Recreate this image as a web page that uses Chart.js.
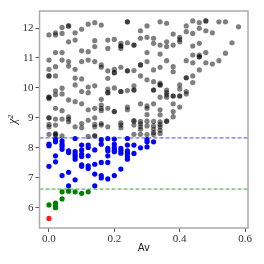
<!DOCTYPE html>
<html>
<head>
<meta charset="utf-8">
<script src="https://cdn.jsdelivr.net/npm/chart.js@4/dist/chart.umd.min.js"></script>
<style>
  html, body { margin: 0; padding: 0; background: #fff; }
  #wrap { width: 264px; height: 264px; }
</style>
</head>
<body>
<div id="wrap"><canvas id="chart" width="264" height="264"></canvas></div>
<script>
// Av columns (points sit on a 0.02 grid) and chi^2 values read per column
const grayAv = [0.00, 0.02, 0.04, 0.06, 0.08, 0.10, 0.12, 0.14, 0.16, 0.18, 0.20, 0.22, 0.24, 0.26, 0.28, 0.30,
                0.32, 0.34, 0.36, 0.38, 0.40, 0.42, 0.44, 0.46, 0.48, 0.50, 0.52, 0.54, 0.56, 0.58];
const grayChi2 = [
  [11.77, 10.93, 10.62, 10.40, 10.40, 9.69, 9.69, 9.64, 9.00, 9.00, 8.78, 8.70, 8.45],
  [11.84, 11.77, 11.18, 10.71, 10.40, 9.90, 9.77, 9.32, 8.96, 8.76, 8.48, 8.45, 8.42],
  [12.02, 11.82, 11.18, 10.93, 9.99, 9.80, 9.24, 8.96, 8.40],
  [12.07, 12.07, 11.54, 10.88, 10.73, 9.60, 9.03, 8.96, 8.87],
  [11.84, 11.60, 10.62, 10.33, 10.10, 9.54, 8.70],
  [11.96, 11.24, 10.88, 10.30, 9.88, 9.47, 8.81, 8.67],
  [12.13, 11.21, 10.93, 10.03, 9.84, 9.27, 8.92, 8.38],
  [12.18, 11.58, 11.38, 10.88, 10.07, 9.32, 9.00, 8.78, 8.70, 8.40, 8.40],
  [12.10, 10.77, 10.69, 9.62, 9.43, 9.32, 9.24, 8.81, 8.76],
  [11.60, 11.32, 10.57, 10.32, 9.96, 9.84, 9.84, 9.32, 8.70],
  [11.62, 10.62, 10.51, 10.51, 10.00, 9.21, 9.21],
  [11.49, 11.40, 11.40, 11.32, 10.69, 9.88, 9.88, 8.83, 8.76, 8.67],
  [12.21, 12.21, 11.51, 10.57, 10.57, 9.91, 9.36, 9.27],
  [11.43, 11.43, 10.58, 10.07, 9.93, 9.93, 8.91, 8.89, 8.76, 8.45],
  [11.91, 11.66, 10.77, 10.77, 10.40, 9.47, 8.88, 8.80, 8.70, 8.62, 8.45],
  [12.07, 11.69, 11.18, 10.88, 10.27, 9.40, 9.32, 9.11, 8.89, 8.73, 8.44],
  [11.66, 11.49, 10.60, 10.21, 9.93, 9.93, 9.47, 8.88, 8.73, 8.62, 8.51, 8.44],
  [12.21, 11.43, 11.13, 10.69, 10.16, 10.10, 10.10, 9.69, 9.27, 9.10, 8.87, 8.78, 8.70, 8.59, 8.48],
  [12.16, 11.54, 11.38, 10.91, 9.93, 9.84, 9.77, 9.69, 8.89, 8.89],
  [11.80, 11.43, 10.71, 10.54, 9.73, 9.73, 9.47, 9.21, 9.04],
  [11.69, 11.62, 11.54, 10.10, 9.96, 9.73, 9.73, 9.36],
  [12.07, 11.88, 10.91, 10.34, 10.34, 9.88, 9.80],
  [12.24, 11.82, 11.40, 11.10, 10.84, 10.40, 10.18],
  [12.18, 11.99, 11.49, 11.10, 11.04, 11.04, 10.60],
  [12.24, 12.24, 11.91, 11.18, 10.84],
  [11.84, 10.80],
  [12.21, 10.91],
  [12.21, 11.16],
  [11.51],
  [12.04]
];

const blueAv = [0.00, 0.02, 0.04, 0.06, 0.08, 0.10, 0.12, 0.14, 0.16, 0.18, 0.20, 0.22, 0.24, 0.26, 0.28, 0.30, 0.32];
const blueChi2 = [
  [8.12, 8.07, 7.38],
  [8.29, 8.20, 7.73, 7.53],
  [8.23, 8.12, 8.04, 7.95, 7.07],
  [7.90, 7.84, 7.18, 6.73],
  [8.31, 7.87, 7.79, 7.71, 7.62, 6.93],
  [8.09, 7.93, 7.79, 7.71, 7.43, 7.38],
  [8.09, 8.01, 7.73, 7.40, 7.31],
  [7.93, 7.45, 7.12, 6.73],
  [8.27, 8.12, 7.51, 7.07, 6.99],
  [8.31, 7.98, 7.90, 7.73, 7.51, 6.96],
  [8.29, 8.12, 8.01, 7.93, 7.87, 7.07],
  [7.98, 7.90, 7.82, 7.29],
  [8.31, 8.09, 7.90, 7.82, 7.71, 7.62],
  [8.09, 7.81],
  [8.00],
  [8.27, 8.20, 8.03],
  [8.20]
];

const greenAv = [0.00, 0.02, 0.02, 0.02, 0.04, 0.04, 0.06, 0.08, 0.10, 0.12];
const greenChi2 = [6.09, 6.15, 6.04, 6.00, 6.53, 6.29, 6.55, 6.53, 6.48, 6.53];

const redAv = [0.00];
const redChi2 = [5.64];

const blueCut = 8.33;
const greenCut = 6.62;

const xRange = [-0.029, 0.609];
const yRange = [5.32, 12.57];
const xTicks = [0.0, 0.2, 0.4, 0.6];
const yTicks = [6, 7, 8, 9, 10, 11, 12];

function columnsToPoints(avs, chis) {
  const pts = [];
  avs.forEach((av, i) => chis[i].forEach(c => pts.push({ x: av, y: c })));
  return pts;
}
function pairsToPoints(avs, chis) {
  return avs.map((av, i) => ({ x: av, y: chis[i] }));
}
function hline(y) {
  return [{ x: xRange[0], y }, { x: xRange[1], y }];
}

// grey box around the plot area
const frame = {
  id: "frame",
  afterDatasetsDraw(chart) {
    const { ctx, chartArea: a } = chart;
    ctx.save();
    ctx.strokeStyle = "#aaaaaa";
    ctx.lineWidth = 1.5;
    ctx.strokeRect(a.left, a.top, a.right - a.left, a.bottom - a.top);
    ctx.restore();
  }
};

const serif = "'Liberation Serif', 'DejaVu Serif', serif";

new Chart(document.getElementById("chart"), {
  type: "scatter",
  data: {
    datasets: [
      { data: hline(blueCut), type: "line", borderColor: "rgba(40,40,235,0.85)", borderWidth: 1,
        borderDash: [4, 2], pointRadius: 0, order: 0 },
      { data: hline(greenCut), type: "line", borderColor: "rgba(20,160,20,0.9)", borderWidth: 1,
        borderDash: [4, 2], pointRadius: 0, order: 0 },
      { data: pairsToPoints(redAv, redChi2), backgroundColor: "#ff1a1a", pointRadius: 2.6, borderWidth: 0, order: 1 },
      { data: pairsToPoints(greenAv, greenChi2), backgroundColor: "#008000", pointRadius: 2.6, borderWidth: 0, order: 2 },
      { data: columnsToPoints(blueAv, blueChi2), backgroundColor: "#0000ff", pointRadius: 2.6, borderWidth: 0, order: 3 },
      { data: columnsToPoints(grayAv, grayChi2), backgroundColor: "rgba(0,0,0,0.5)", pointRadius: 2.6, borderWidth: 0, order: 4 }
    ]
  },
  options: {
    responsive: false,
    animation: false,
    layout: { padding: { left: 0, top: 11, right: 16, bottom: 0 } },
    plugins: { legend: { display: false }, tooltip: { enabled: false } },
    scales: {
      x: {
        type: "linear",
        min: xRange[0], max: xRange[1],
        afterBuildTicks: s => { s.ticks = xTicks.map(v => ({ value: v })); },
        afterFit: s => { s.height = 36; },
        grid: { display: true, drawOnChartArea: false, drawTicks: true, tickLength: 4, tickColor: "#555" },
        border: { display: false },
        ticks: { padding: 1, color: "#333", font: { family: serif, size: 11 }, callback: v => v.toFixed(1), maxRotation: 0 },
        title: { display: true, text: "Av", color: "#222", padding: { top: 0, bottom: 10 },
                 font: { family: "'DejaVu Sans', sans-serif", size: 10 } }
      },
      y: {
        type: "linear",
        min: yRange[0], max: yRange[1],
        afterBuildTicks: s => { s.ticks = yTicks.map(v => ({ value: v })); },
        afterFit: s => { s.width = 39.5; },
        grid: { display: true, drawOnChartArea: false, drawTicks: true, tickLength: 4, tickColor: "#555" },
        border: { display: false },
        ticks: { padding: 2, color: "#333", font: { family: serif, size: 11 } },
        title: { display: true, text: "χ²", color: "#222", padding: { top: 6, bottom: 0 },
                 font: { family: serif, size: 12, style: "italic" } }
      }
    }
  },
  plugins: [frame]
});
</script>
</body>
</html>
